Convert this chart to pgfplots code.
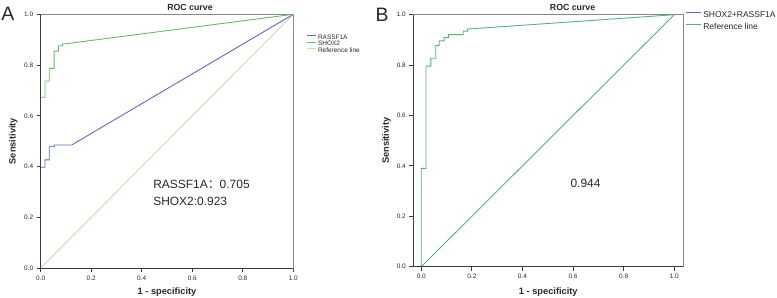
\documentclass[border=0pt]{standalone}
\usepackage{pgfplots}
\pgfplotsset{compat=1.18}
\usepackage{fontspec}
\setmainfont{Liberation Sans}
\newfontfamily\cjk{Noto Sans CJK SC}
\definecolor{rblue}{RGB}{92,108,192}
\definecolor{rgreen}{RGB}{96,190,106}
\definecolor{bgreen}{RGB}{82,182,120}
\definecolor{refbeige}{RGB}{216,216,172}
\definecolor{axgrey}{RGB}{135,135,135}
\definecolor{axdark}{RGB}{60,60,60}
\definecolor{txt}{RGB}{40,40,40}
\pgfplotsset{
  rocstyle/.style={
    anchor=south west, scale only axis, clip=false,
    ymin=0, ymax=1,
    xtick={0,0.2,0.4,0.6,0.8,1}, ytick={0,0.2,0.4,0.6,0.8,1},
    xtick pos=bottom, ytick pos=left, tick align=outside, major tick length=4bp,
    tick style={color=axdark, line width=0.8bp},
    axis line style={color=axgrey, line width=1bp},
    ticklabel style={font=\fontsize{6.5}{7}\selectfont, color=txt},
    /pgf/number format/assume math mode=true,
    /pgf/number format/fixed, /pgf/number format/fixed zerofill, /pgf/number format/precision=1,
    xlabel={1 - specificity}, ylabel={Sensitivity},
    label style={font=\bfseries\fontsize{9.3}{11}\selectfont, color=txt},
    title={ROC curve},
    every axis title shift=0pt,
    title style={font=\bfseries\fontsize{8.8}{10}\selectfont, color=txt, anchor=base, inner sep=0pt},
    legend cell align=left,
    every axis plot/.append style={line width=0.9bp},
  }
}
\begin{document}
\begin{tikzpicture}
\useasboundingbox (0,0) rectangle (777bp,298bp);
% Panel A
\begin{axis}[rocstyle,
  at={(40.7bp,30bp)}, width=252.6bp, height=253.7bp,
  xmin=0, xmax=1,
  xlabel style={at={(axis description cs:0.5,-0.0946)}, anchor=center},
  ylabel style={at={(axis description cs:-0.1085,0.5)}, anchor=center},
  title style={at={(axis description cs:0.591,1.016)}},
  legend style={at={(axis description cs:1.050,0.922)}, anchor=north west, draw=none, fill=none,
    font=\fontsize{6.5}{6.5}\selectfont, inner sep=0pt, column sep=2bp,
    nodes={inner sep=0pt, text height=5bp, text depth=1.5bp, text=txt}},
  legend image code/.code={\draw[#1] (0bp,1.8bp) -- (9bp,1.8bp);},
]
\addplot[refbeige, forget plot] coordinates {(0,0) (1,1)};
\addplot[rblue] coordinates {(0,0.397) (0.017,0.397) (0.017,0.426) (0.034,0.426) (0.034,0.478) (0.053,0.478) (0.053,0.485) (0.123,0.485) (1,1)};
\addplot[rgreen] coordinates {(0,0.673) (0.017,0.673) (0.017,0.737) (0.034,0.737) (0.034,0.787) (0.053,0.787) (0.053,0.855) (0.070,0.855) (0.070,0.876) (0.086,0.876) (0.086,0.883) (0.10,0.884) (1,1)};
\addlegendentry{RASSF1A}
\addlegendentry{SHOX2}
\addlegendimage{refbeige}
\addlegendentry{Reference line}
\draw[axdark, line width=1bp] (rel axis cs:0,1) -- (rel axis cs:0,0) -- (rel axis cs:1,0);
\node[anchor=west, inner sep=0pt, font=\fontsize{12}{14}\selectfont, text=txt] at (axis cs:0.445,0.331) {RASSF1A{\cjk ：}0.705};
\node[anchor=west, inner sep=0pt, font=\fontsize{12}{14}\selectfont, text=txt] at (axis cs:0.445,0.264) {SHOX2:0.923};
\end{axis}
% Panel B
\begin{axis}[rocstyle,
  at={(413.3bp,31.3bp)}, width=270bp, height=252bp,
  xmin=-0.0316, xmax=1.0356,
  xlabel style={at={(axis description cs:0.5,-0.100)}, anchor=center},
  ylabel style={at={(axis description cs:-0.099,0.5)}, anchor=center},
  title style={at={(axis description cs:0.59,1.0175)}},
  legend style={at={(axis description cs:1.006,1.0226)}, anchor=north west, draw=none, fill=none,
    font=\fontsize{8.5}{8.5}\selectfont, inner sep=0pt, column sep=2.3bp,
    nodes={inner sep=0pt, text height=8bp, text depth=4bp, text=txt}},
  legend image code/.code={\draw[#1] (0bp,2.5bp) -- (15bp,2.5bp);},
]
\addplot[bgreen, forget plot] coordinates {(0,0) (1,1)};
\addplot[bgreen, forget plot] coordinates {(0,0) (0,0.39) (0.0186,0.39) (0.0186,0.796) (0.038,0.796) (0.038,0.827) (0.057,0.827) (0.057,0.877) (0.071,0.877) (0.071,0.896) (0.090,0.896) (0.090,0.909) (0.108,0.909) (0.108,0.921) (0.166,0.921) (0.166,0.935) (0.183,0.935) (0.183,0.943) (1,1)};
\addlegendimage{rblue}
\addlegendentry{SHOX2+RASSF1A}
\addlegendimage{bgreen}
\addlegendentry{Reference line}
\draw[axdark, line width=1bp] (rel axis cs:0,1) -- (rel axis cs:0,0) -- (rel axis cs:1,0);
\node[anchor=center, inner sep=0pt, font=\fontsize{12}{14}\selectfont, text=txt] at (axis cs:0.649,0.332) {0.944};
\end{axis}
\node[anchor=base west, inner sep=0pt, font=\fontsize{19.5}{20}\selectfont, text=txt] at (1.2bp,277bp) {A};
\node[anchor=base west, inner sep=0pt, font=\fontsize{19.5}{20}\selectfont, text=txt] at (375.5bp,276.5bp) {B};
\end{tikzpicture}
\end{document}
